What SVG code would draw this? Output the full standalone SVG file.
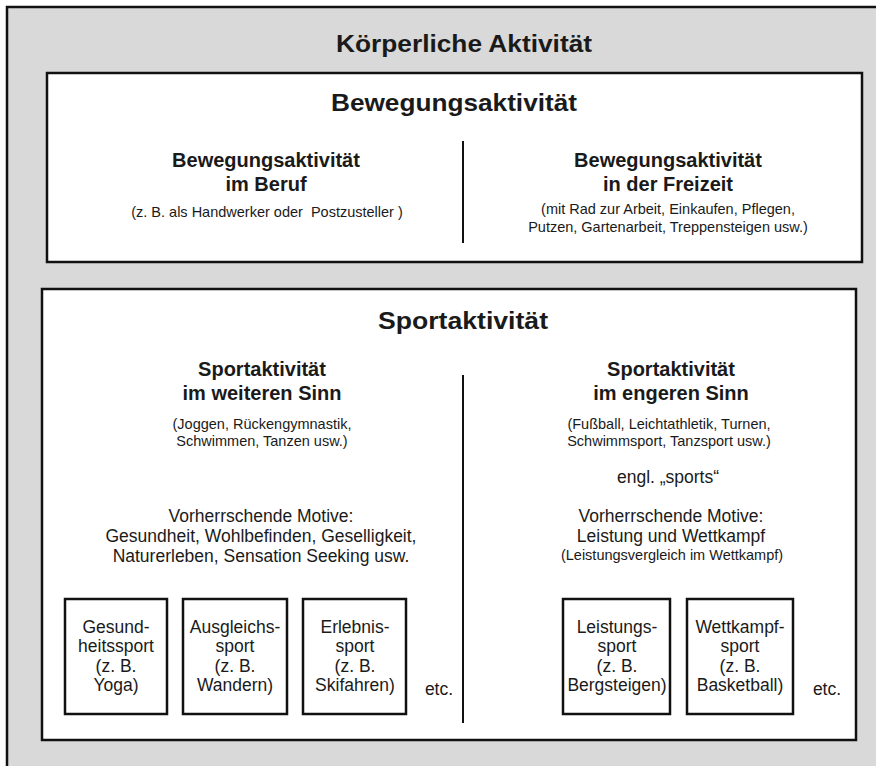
<svg xmlns="http://www.w3.org/2000/svg" width="876" height="766" viewBox="0 0 876 766">
<style>
text{font-family:"Liberation Sans",Arial,sans-serif;fill:#1a1a1a;text-anchor:middle}
.h0{font-size:24px;font-weight:bold}
.h1{font-size:20px;font-weight:bold}
.s{font-size:14.5px}
.m{font-size:17.5px}
.box{fill:#fff;stroke:#111;stroke-width:2.5}
.div{stroke:#111;stroke-width:2}
</style>
<rect width="876" height="766" fill="#fff"/>
<g id="koerperliche-aktivitaet">
<rect x="7" y="7" width="900" height="800" fill="#d9d9d9" stroke="#111" stroke-width="2.5"/>
<text class="h0" x="464" y="52" textLength="256" lengthAdjust="spacingAndGlyphs">Körperliche Aktivität</text>
</g>
<g id="bewegungsaktivitaet">
<rect class="box" x="47" y="73" width="815" height="189"/>
<text class="h0" x="454" y="111" textLength="246" lengthAdjust="spacingAndGlyphs">Bewegungsaktivität</text>
</g>
<g id="beruf">
<text class="h1" x="266" y="167">Bewegungsaktivität</text>
<text class="h1" x="266" y="191">im Beruf</text>
<text class="s" x="267" y="217" xml:space="preserve">(z. B. als Handwerker oder  Postzusteller )</text>
</g>
<g id="freizeit">
<text class="h1" x="668" y="167">Bewegungsaktivität</text>
<text class="h1" x="668" y="191">in der Freizeit</text>
<text class="s" x="668" y="214">(mit Rad zur Arbeit, Einkaufen, Pflegen,</text>
<text class="s" x="668" y="232">Putzen, Gartenarbeit, Treppensteigen usw.)</text>
</g>
<g id="sportaktivitaet">
<rect class="box" x="42" y="289" width="814" height="451"/>
<text class="h0" x="463" y="329" textLength="170" lengthAdjust="spacingAndGlyphs">Sportaktivität</text>
</g>
<g id="weiterer-sinn">
<text class="h1" x="262" y="376">Sportaktivität</text>
<text class="h1" x="262" y="400">im weiteren Sinn</text>
<text class="s" x="262" y="429">(Joggen, Rückengymnastik,</text>
<text class="s" x="262" y="446">Schwimmen, Tanzen usw.)</text>
<text class="m" x="261" y="522">Vorherrschende Motive:</text>
<text class="m" x="261" y="542">Gesundheit, Wohlbefinden, Geselligkeit,</text>
<text class="m" x="261" y="562">Naturerleben, Sensation Seeking usw.</text>
<text class="m" x="439" y="695">etc.</text>
</g>
<g id="engerer-sinn">
<text class="h1" x="671" y="376">Sportaktivität</text>
<text class="h1" x="671" y="400">im engeren Sinn</text>
<text class="s" x="669" y="429">(Fußball, Leichtathletik, Turnen,</text>
<text class="s" x="669" y="446">Schwimmsport, Tanzsport usw.)</text>
<text class="m" x="668" y="483">engl. „sports“</text>
<text class="m" x="671" y="522">Vorherrschende Motive:</text>
<text class="m" x="671" y="542">Leistung und Wettkampf</text>
<text class="s" x="672" y="560">(Leistungsvergleich im Wettkampf)</text>
<text class="m" x="827" y="695">etc.</text>
</g>
<g id="gesundheitssport">
<rect class="box" x="65" y="599" width="102" height="115"/>
<text class="m" x="116" y="633">Gesund-</text>
<text class="m" x="116" y="652">heitssport</text>
<text class="m" x="116" y="672">(z. B.</text>
<text class="m" x="116" y="691">Yoga)</text>
</g>
<g id="ausgleichssport">
<rect class="box" x="183" y="599" width="104" height="115"/>
<text class="m" x="235" y="633">Ausgleichs-</text>
<text class="m" x="235" y="652">sport</text>
<text class="m" x="235" y="672">(z. B.</text>
<text class="m" x="235" y="691">Wandern)</text>
</g>
<g id="erlebnissport">
<rect class="box" x="303" y="599" width="103" height="115"/>
<text class="m" x="355" y="633">Erlebnis-</text>
<text class="m" x="355" y="652">sport</text>
<text class="m" x="355" y="672">(z. B.</text>
<text class="m" x="355" y="691">Skifahren)</text>
</g>
<g id="leistungssport">
<rect class="box" x="563" y="599" width="107" height="115"/>
<text class="m" x="617" y="633">Leistungs-</text>
<text class="m" x="617" y="652">sport</text>
<text class="m" x="617" y="672">(z. B.</text>
<text class="m" x="617" y="691">Bergsteigen)</text>
</g>
<g id="wettkampfsport">
<rect class="box" x="687" y="599" width="106" height="115"/>
<text class="m" x="740" y="633">Wettkampf-</text>
<text class="m" x="740" y="652">sport</text>
<text class="m" x="740" y="672">(z. B.</text>
<text class="m" x="740" y="691">Basketball)</text>
</g>
<g id="dividers">
<line class="div" x1="463" y1="141" x2="463" y2="243"/>
<line class="div" x1="463" y1="375" x2="463" y2="723"/>
</g>
</svg>
